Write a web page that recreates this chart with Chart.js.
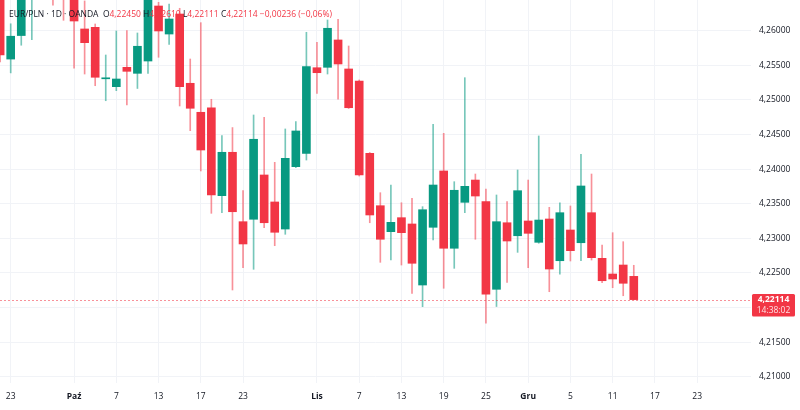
<!DOCTYPE html>
<html>
<head>
<meta charset="utf-8">
<script src="https://cdn.jsdelivr.net/npm/chart.js@4.4.1/dist/chart.umd.min.js"></script>
<style>
  html, body { margin: 0; padding: 0; background: #ffffff; }
  #wrap { width: 800px; height: 410px; position: relative; }
</style>
</head>
<body>
<div id="wrap"><canvas id="chart"></canvas></div>
<script>
// DATA (EUR/PLN daily, OANDA)
const dates = [
  "2025-09-22", "2025-09-23", "2025-09-24", "2025-09-25", "2025-09-26", "2025-09-29", "2025-09-30",
  "2025-10-01", "2025-10-02", "2025-10-03", "2025-10-06", "2025-10-07", "2025-10-08", "2025-10-09",
  "2025-10-10", "2025-10-13", "2025-10-14", "2025-10-15", "2025-10-16", "2025-10-17", "2025-10-20",
  "2025-10-21", "2025-10-22", "2025-10-23", "2025-10-24", "2025-10-27", "2025-10-28", "2025-10-29",
  "2025-10-30", "2025-10-31", "2025-11-03", "2025-11-04", "2025-11-05", "2025-11-06", "2025-11-07",
  "2025-11-10", "2025-11-11", "2025-11-12", "2025-11-13", "2025-11-14", "2025-11-17", "2025-11-18",
  "2025-11-19", "2025-11-20", "2025-11-21", "2025-11-24", "2025-11-25", "2025-11-26", "2025-11-27",
  "2025-11-28", "2025-12-01", "2025-12-02", "2025-12-03", "2025-12-04", "2025-12-05", "2025-12-08",
  "2025-12-09", "2025-12-10", "2025-12-11", "2025-12-12", "2025-12-15"
];

const open = [
  4.26800, 4.25590, 4.25930, 4.26500, 4.26720, 4.26620, 4.26600,
  4.26520, 4.26025, 4.26049, 4.25305, 4.25191, 4.25471, 4.25384,
  4.25562, 4.26357, 4.25952, 4.26241, 4.25240, 4.24821, 4.24887,
  4.23616, 4.24243, 4.23240, 4.23275, 4.23915, 4.23525, 4.23134,
  4.24035, 4.24228, 4.25465, 4.25471, 4.25866, 4.25447, 4.25273,
  4.24228, 4.23471, 4.23096, 4.23298, 4.23207, 4.22325, 4.23159,
  4.23973, 4.22856, 4.23520, 4.23842, 4.23529, 4.22263, 4.23225,
  4.23037, 4.23250, 4.22942, 4.23279, 4.22676, 4.23120, 4.22936,
  4.23370, 4.22711, 4.22484, 4.22614, 4.22450
];

const high = [
  4.27000, 4.26100, 4.26700, 4.26900, 4.26950, 4.26800, 4.26780,
  4.26680, 4.26430, 4.26097, 4.25649, 4.25996, 4.26000, 4.25967,
  4.26650, 4.26410, 4.26386, 4.26324, 4.25591, 4.26116, 4.25009,
  4.24483, 4.24600, 4.23688, 4.24782, 4.24749, 4.24098, 4.24580,
  4.24685, 4.25977, 4.25832, 4.26155, 4.26165, 4.25779, 4.25288,
  4.24240, 4.23659, 4.23770, 4.23514, 4.23578, 4.23457, 4.24647,
  4.24517, 4.23818, 4.25321, 4.23929, 4.23712, 4.23626, 4.23529,
  4.23987, 4.23842, 4.24479, 4.23448, 4.23514, 4.23467, 4.24214,
  4.23929, 4.22903, 4.23081, 4.22951, 4.22610
];

const low = [
  4.25550, 4.25390, 4.25790, 4.25870, 4.26500, 4.26370, 4.26150,
  4.25460, 4.25374, 4.25205, 4.24988, 4.25133, 4.24926, 4.25165,
  4.25384, 4.25616, 4.25803, 4.24912, 4.24555, 4.23973, 4.23361,
  4.23370, 4.22253, 4.22575, 4.22552, 4.23153, 4.22893, 4.23058,
  4.24020, 4.24131, 4.25095, 4.25374, 4.25009, 4.24876, 4.23900,
  4.23225, 4.22653, 4.22686, 4.22614, 4.22205, 4.22012, 4.22975,
  4.22278, 4.22566, 4.23370, 4.22986, 4.21772, 4.22014, 4.22361,
  4.22797, 4.22575, 4.22928, 4.22228, 4.22480, 4.22672, 4.22676,
  4.22686, 4.22358, 4.22286, 4.22170, 4.22111
];

const close = [
  4.25650, 4.25920, 4.26550, 4.26680, 4.26620, 4.26550, 4.26500,
  4.26140, 4.25827, 4.25327, 4.25312, 4.25302, 4.25413, 4.25775,
  4.26520, 4.25996, 4.26169, 4.25191, 4.24879, 4.24276, 4.23626,
  4.24243, 4.23384, 4.22918, 4.24431, 4.23225, 4.23087, 4.24156,
  4.24551, 4.25480, 4.25393, 4.26035, 4.25519, 4.24887, 4.23915,
  4.23337, 4.22986, 4.23231, 4.23081, 4.22639, 4.23413, 4.23770,
  4.22856, 4.23694, 4.23751, 4.23611, 4.22191, 4.23240, 4.22961,
  4.23688, 4.23072, 4.23264, 4.22556, 4.23370, 4.22821, 4.23756,
  4.22720, 4.22387, 4.22412, 4.22350, 4.22114
];

// time axis labels (bar index -> text), months are bold
const tickIdx = [1, 7, 11, 15, 19, 23, 30, 34, 38, 42, 46, 50, 54, 58, 62, 66];
const tickText = ["23", "Paź", "7", "13", "17", "23", "Lis", "7", "13", "19", "25", "Gru", "5", "11", "17", "23"];
const monthTicks = ["Paź", "Lis", "Gru"];

// price axis
const priceTicks = [4.21, 4.215, 4.22, 4.225, 4.23, 4.235, 4.24, 4.245, 4.25, 4.255, 4.26];

const symbolText = "EUR/PLN · 1D · OANDA";
const prevClose = 4.2235;
const countdown = "14:38:02";

const UP = "#089981";
const DOWN = "#f23645";
const UP_WICK = "rgba(8,153,129,0.55)";
const DOWN_WICK = "rgba(242,54,69,0.55)";
const TEXT = "#131722";
const FONT = "'Open Sans', 'Noto Sans', sans-serif";

const fmt = v => v.toFixed(5).replace(".", ",");

const isUp = i => close[i] >= open[i];

// PLUGINS
const lastPrice = {
  id: "lastPrice",
  afterDatasetsDraw(chart) {
    const ctx = chart.ctx;
    const last = close.length - 1;
    const y = chart.scales.y.getPixelForValue(close[last]);
    const boxX = 752;

    ctx.save();
    ctx.strokeStyle = "rgba(242,54,69,0.55)";
    ctx.lineWidth = 1;
    ctx.setLineDash([2, 2]);
    ctx.beginPath();
    ctx.moveTo(chart.chartArea.left, Math.round(y) + 0.5);
    ctx.lineTo(boxX, Math.round(y) + 0.5);
    ctx.stroke();
    ctx.setLineDash([]);

    ctx.fillStyle = DOWN;
    ctx.beginPath();
    ctx.roundRect(boxX, y - 5.6, 43, 22.4, 1.5);
    ctx.fill();

    ctx.fillStyle = "#ffffff";
    ctx.textAlign = "center";
    ctx.textBaseline = "middle";
    ctx.font = "bold 8.5px " + FONT;
    ctx.fillText(fmt(close[last]), boxX + 21.5, y);
    ctx.fillStyle = "rgba(255,255,255,0.85)";
    ctx.font = "8.5px " + FONT;
    ctx.fillText(countdown, boxX + 21.5, y + 11.2);
    ctx.restore();
  }
};

const legend = {
  id: "legendLine",
  afterDraw(chart) {
    const ctx = chart.ctx;
    const last = close.length - 1;
    const change = close[last] - prevClose;
    const pct = change / prevClose * 100;
    const sign = change < 0 ? "\u2212" : "+";
    const valColor = isUp(last) ? UP : DOWN;

    const parts = [
      [symbolText + "  ", TEXT],
      ["O", TEXT], [fmt(open[last]) + " ", valColor],
      ["H", TEXT], [fmt(high[last]) + " ", valColor],
      ["L", TEXT], [fmt(low[last]) + " ", valColor],
      ["C", TEXT], [fmt(close[last]) + " ", valColor],
      [sign + fmt(Math.abs(change)) + " (" + sign + Math.abs(pct).toFixed(2).replace(".", ",") + "%)", valColor]
    ];

    ctx.save();
    ctx.font = "8.5px " + FONT;
    ctx.textBaseline = "middle";
    ctx.textAlign = "left";
    let x = 9;
    parts.forEach(p => {
      ctx.fillStyle = p[1];
      ctx.fillText(p[0], x, 15);
      x += ctx.measureText(p[0]).width;
    });
    ctx.restore();
  }
};

// CHART
const wickData = dates.map((d, i) => ({ x: i, y: [low[i], high[i]] }));
const bodyData = dates.map((d, i) => ({ x: i, y: [open[i], close[i]] }));

new Chart(document.getElementById("chart"), {
  type: "bar",
  data: {
    datasets: [
      {
        label: "wick",
        data: wickData,
        backgroundColor: dates.map((d, i) => isUp(i) ? UP_WICK : DOWN_WICK),
        barThickness: 1,
        grouped: false,
        order: 2
      },
      {
        label: "body",
        data: bodyData,
        backgroundColor: dates.map((d, i) => isUp(i) ? UP : DOWN),
        barThickness: 8,
        minBarLength: 1,
        grouped: false,
        order: 1
      }
    ]
  },
  options: {
    responsive: true,
    maintainAspectRatio: false,
    animation: false,
    layout: { padding: 0 },
    plugins: {
      legend: { display: false },
      tooltip: { enabled: false }
    },
    scales: {
      x: {
        type: "linear",
        position: "bottom",
        offset: false,
        min: -0.0133,
        max: 71.1,
        afterBuildTicks: scale => {
          scale.ticks = tickIdx.map(v => ({ value: v }));
        },
        afterFit: scale => {
          scale.height = 27;
          scale.paddingLeft = 0;
          scale.paddingRight = 0;
        },
        grid: { color: "#f1f3f7", drawTicks: false, offset: false },
        border: { display: false },
        ticks: {
          autoSkip: false,
          maxRotation: 0,
          padding: 8,
          color: TEXT,
          font: ctx => {
            const t = tickText[tickIdx.indexOf(ctx.tick ? ctx.tick.value : -1)];
            return { family: FONT, size: 8.5, weight: monthTicks.includes(t) ? "bold" : "normal" };
          },
          callback: v => {
            const k = tickIdx.indexOf(v);
            return k >= 0 ? tickText[k] : "";
          }
        }
      },
      y: {
        type: "linear",
        position: "right",
        min: 4.20909,
        max: 4.264436,
        afterBuildTicks: scale => {
          scale.ticks = priceTicks.map(v => ({ value: v }));
        },
        afterFit: scale => {
          scale.width = 49;
          scale.paddingTop = 0;
          scale.paddingBottom = 0;
        },
        grid: { color: "#f1f3f7", drawTicks: false },
        border: { display: false },
        ticks: {
          padding: 8,
          crossAlign: "near",
          color: TEXT,
          font: { family: FONT, size: 8.5 },
          // 4,22000 is hidden behind the last price label
          callback: v => Math.abs(v - 4.22) < 1e-9 ? "" : fmt(v)
        }
      }
    }
  },
  plugins: [lastPrice, legend]
});
</script>
</body>
</html>
